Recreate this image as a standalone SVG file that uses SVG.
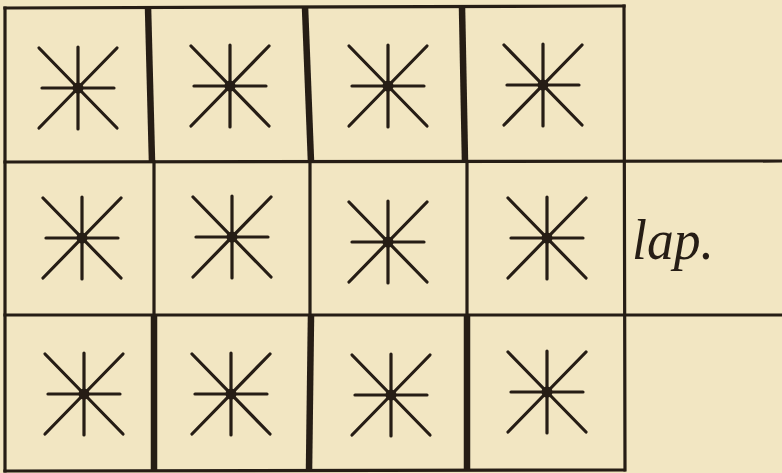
<svg xmlns="http://www.w3.org/2000/svg" width="782" height="473" viewBox="0 0 782 473">
  <style>
    .thin { stroke: #261d15; stroke-width: 3.2; fill: none; stroke-linecap: square; }
    .thick { stroke: #261d15; stroke-width: 6.5; fill: none; }
    .star line { stroke: #261d15; stroke-width: 3.2; stroke-linecap: round; }
    .star circle { fill: #261d15; }
    .label { font-family: "Liberation Serif", "DejaVu Serif", serif; font-style: italic; font-size: 58px; fill: #261d15; }
  </style>
  <defs>
    <g id="star" class="star">
      <line x1="0" y1="-41" x2="0" y2="41"/>
      <line x1="-36" y1="0" x2="36" y2="0"/>
      <line x1="-39" y1="-40" x2="39" y2="40"/>
      <line x1="39" y1="-40" x2="-39" y2="40"/>
      <circle cx="0" cy="0" r="5.5"/>
    </g>
  </defs>
  <rect x="0" y="0" width="782" height="473" fill="#f2e6c2"/>

  <g id="grid">
    <line class="thin" x1="5" y1="8" x2="624" y2="6"/>
    <line class="thin" x1="5" y1="162" x2="782" y2="161"/>
    <line class="thin" x1="5" y1="315" x2="782" y2="315"/>
    <line class="thin" x1="5" y1="471" x2="624" y2="470"/>
    <line class="thin" x1="5" y1="8" x2="5" y2="471"/>
    <line class="thin" x1="624" y1="6" x2="625" y2="470"/>
    <line class="thin" x1="154" y1="162" x2="154" y2="315"/>
    <line class="thin" x1="310" y1="162" x2="310" y2="315"/>
    <line class="thin" x1="467" y1="162" x2="467" y2="315"/>
    <line class="thick" x1="148" y1="7" x2="152" y2="162"/>
    <line class="thick" x1="305" y1="7" x2="311" y2="162"/>
    <line class="thick" x1="462" y1="7" x2="465" y2="162"/>
    <line class="thick" x1="154" y1="315" x2="154" y2="471"/>
    <line class="thick" x1="311" y1="315" x2="309" y2="471"/>
    <line class="thick" x1="467" y1="315" x2="467" y2="471"/>
  </g>

  <g id="cell-1-1"><use href="#star" x="78" y="88"/></g>
  <g id="cell-1-2"><use href="#star" x="230" y="86"/></g>
  <g id="cell-1-3"><use href="#star" x="388" y="86"/></g>
  <g id="cell-1-4"><use href="#star" x="543" y="85"/></g>
  <g id="cell-2-1"><use href="#star" x="82" y="238"/></g>
  <g id="cell-2-2"><use href="#star" x="232" y="237"/></g>
  <g id="cell-2-3"><use href="#star" x="388" y="242"/></g>
  <g id="cell-2-4"><use href="#star" x="547" y="238"/></g>
  <g id="cell-3-1"><use href="#star" x="84" y="394"/></g>
  <g id="cell-3-2"><use href="#star" x="231" y="394"/></g>
  <g id="cell-3-3"><use href="#star" x="391" y="395"/></g>
  <g id="cell-3-4"><use href="#star" x="547" y="392"/></g>

  <g id="label-lap">
    <text class="label" x="632" y="259" textLength="82" lengthAdjust="spacingAndGlyphs">lap.</text>
  </g>
</svg>
